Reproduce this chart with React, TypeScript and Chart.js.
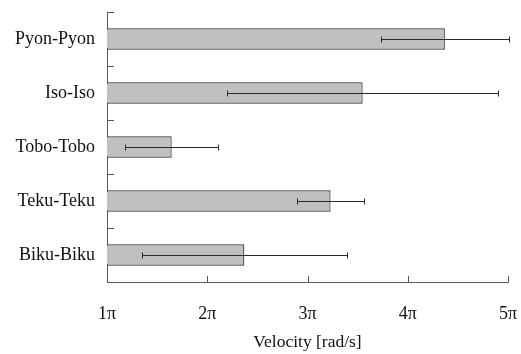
import React, { useEffect, useRef } from "react";
import { Chart, registerables } from "chart.js";

Chart.register(...registerables);

const categories = ["Pyon-Pyon", "Iso-Iso", "Tobo-Tobo", "Teku-Teku", "Biku-Biku"];
const velocities = [4.37, 3.55, 1.645, 3.23, 2.37];
const errors = [0.64, 1.35, 0.465, 0.33, 1.02];
const xTicks = [1, 2, 3, 4, 5];

const FONT = "'Liberation Serif', 'Times New Roman', serif";
const INK = "#111111";

const innerPlugin = {
  id: "innerTicksAndErrors",
  afterDatasetsDraw(chart: any) {
    const { ctx, chartArea } = chart;
    const xs = chart.scales.x;
    const ys = chart.scales.y;
    ctx.save();
    ctx.strokeStyle = "#2a2a2a";
    ctx.lineWidth = 1;
    const meta = chart.getDatasetMeta(0);
    meta.data.forEach((bar: any, i: number) => {
      const y = Math.round(bar.y) + 0.5;
      const x1 = Math.round(xs.getPixelForValue(velocities[i] - errors[i])) + 0.5;
      const x2 = Math.round(xs.getPixelForValue(velocities[i] + errors[i])) + 0.5;
      ctx.beginPath();
      ctx.moveTo(x1, y);
      ctx.lineTo(x2, y);
      ctx.moveTo(x1, y - 3);
      ctx.lineTo(x1, y + 3);
      ctx.moveTo(x2, y - 3);
      ctx.lineTo(x2, y + 3);
      ctx.stroke();
    });
    ctx.strokeStyle = "#555555";
    const p0 = ys.getPixelForValue(0);
    const p1 = ys.getPixelForValue(1);
    const step = p1 - p0;
    for (let i = 0; i <= categories.length; i++) {
      const y = Math.round(p0 - step / 2 + i * step) + 0.5;
      ctx.beginPath();
      ctx.moveTo(chartArea.left, y);
      ctx.lineTo(chartArea.left + 7, y);
      ctx.stroke();
    }
    xTicks.forEach((v) => {
      const x = Math.round(xs.getPixelForValue(v)) + 0.5;
      ctx.beginPath();
      ctx.moveTo(x, chartArea.bottom);
      ctx.lineTo(x, chartArea.bottom - 6);
      ctx.stroke();
    });
    ctx.restore();
  },
};

export default function App() {
  const ref = useRef<HTMLCanvasElement>(null);
  useEffect(() => {
    if (!ref.current) return;
    const chart = new Chart(ref.current, {
      type: "bar",
      data: {
        labels: categories,
        datasets: [
          {
            data: velocities,
            backgroundColor: "#c0c0c0",
            borderColor: "#303030",
            borderWidth: 1.2,
            borderSkipped: false,
            barPercentage: 0.4,
            categoryPercentage: 1,
          },
        ],
      },
      options: {
        indexAxis: "y",
        animation: false,
        responsive: false,
        layout: { padding: { top: 12, right: 13, left: 0, bottom: 0 } },
        plugins: { legend: { display: false }, tooltip: { enabled: false } },
        scales: {
          x: {
            type: "linear",
            min: 1,
            max: 5,
            afterFit: (s: any) => {
              s.height = 72;
              s.paddingLeft = 0;
              s.paddingRight = 0;
            },
            afterBuildTicks: (s: any) => {
              s.ticks = xTicks.map((v) => ({ value: v }));
            },
            grid: { display: false, drawTicks: false },
            border: { display: true, color: "#5a5a5a", width: 1 },
            ticks: {
              padding: 21,
              color: INK,
              font: { family: FONT, size: 18 },
              callback: (v: any) => `${v}π`,
            },
            title: {
              display: true,
              text: "Velocity [rad/s]",
              color: INK,
              font: { family: FONT, size: 17.5 },
              padding: { top: 0, bottom: 1 },
            },
          },
          y: {
            afterFit: (s: any) => {
              s.width = 107;
              s.paddingTop = 0;
              s.paddingBottom = 0;
            },
            grid: { display: false, drawTicks: false, offset: true },
            border: { display: true, color: "#5a5a5a", width: 1 },
            ticks: {
              padding: 12,
              color: INK,
              font: { family: FONT, size: 18 },
            },
          },
        },
      },
      plugins: [innerPlugin],
    });
    return () => chart.destroy();
  }, []);
  return (
    <div style={{ position: "fixed", left: 0, top: 0, width: 521, height: 354, background: "#fff" }}>
      <canvas ref={ref} width={521} height={354} style={{ width: 521, height: 354, display: "block" }} />
    </div>
  );
}
